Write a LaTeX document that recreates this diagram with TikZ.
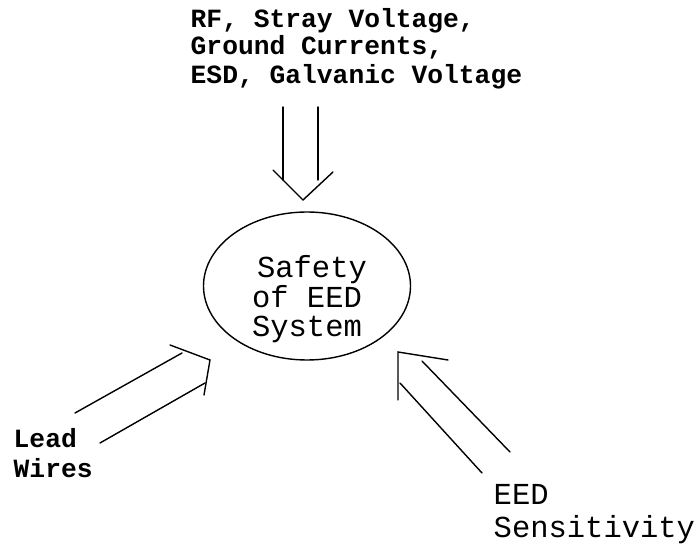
\documentclass[tikz,border=0pt]{standalone}
\usepackage{fontspec}
\setmonofont{Liberation Mono}
\usetikzlibrary{shapes.geometric}
\begin{document}
\begin{tikzpicture}[x=1pt,y=1pt,line width=1.4pt]
\providecommand{\fbold}{\fontsize{26.3}{28}\selectfont\ttfamily\bfseries}
\providecommand{\freg}{\fontsize{30.5}{30}\selectfont\ttfamily}
\tikzset{lbl/.style={anchor=base west,inner sep=0pt},mid/.style={anchor=base,inner sep=0pt,font=\freg},shaft/.style={draw=black,line cap=round},head/.style={draw=black,line join=miter,line cap=round}}
\useasboundingbox (0,0) rectangle (699,544);
% labels
\node[lbl,font=\fbold] (srcA) at (190,516) {RF, Stray Voltage,};
\node[lbl,font=\fbold] (srcB) at (190,489) {Ground Currents,};
\node[lbl,font=\fbold] (srcC) at (190,460) {ESD, Galvanic Voltage};
\node[lbl,font=\fbold] (leadA) at (13,96) {Lead};
\node[lbl,font=\fbold] (leadB) at (13,67) {Wires};
\node[lbl,font=\freg] (sensA) at (493,40) {EED};
\node[lbl,font=\freg] (sensB) at (493,7) {Sensitivity};
% centre
\node[draw,ellipse,minimum width=207,minimum height=148,inner sep=0pt] (safety) at (307,258) {};
\node[mid] (safetyA) at (312,266) {Safety};
\node[mid] (safetyB) at (307,236) {of EED};
\node[mid] (safetyC) at (307,207) {System};
% hollow arrows
\coordinate (topL) at (283,437); \coordinate (topLe) at (283,364);
\coordinate (topR) at (318,437); \coordinate (topRe) at (318,364);
\coordinate (topA) at (273,374); \coordinate (topT) at (303,344); \coordinate (topB) at (333,372);
\coordinate (leadU) at (75,131); \coordinate (leadUe) at (182,191);
\coordinate (leadD) at (100,101); \coordinate (leadDe) at (205,161);
\coordinate (leadA1) at (170,199); \coordinate (leadT) at (210,184); \coordinate (leadB1) at (204,149);
\coordinate (sensU) at (510,92); \coordinate (sensUe) at (422,183);
\coordinate (sensD) at (482,71); \coordinate (sensDe) at (400,161);
\coordinate (sensA1) at (448,184); \coordinate (sensT) at (398,192); \coordinate (sensB1) at (398,144);
\draw[shaft] (topL) -- (topLe);
\draw[shaft] (topR) -- (topRe);
\draw[head] (topA) -- (topT) -- (topB);
\draw[shaft] (leadU) -- (leadUe);
\draw[shaft] (leadD) -- (leadDe);
\draw[head] (leadA1) -- (leadT) -- (leadB1);
\draw[shaft] (sensU) -- (sensUe);
\draw[shaft] (sensD) -- (sensDe);
\draw[head] (sensA1) -- (sensT) -- (sensB1);
\end{tikzpicture}
\end{document}
